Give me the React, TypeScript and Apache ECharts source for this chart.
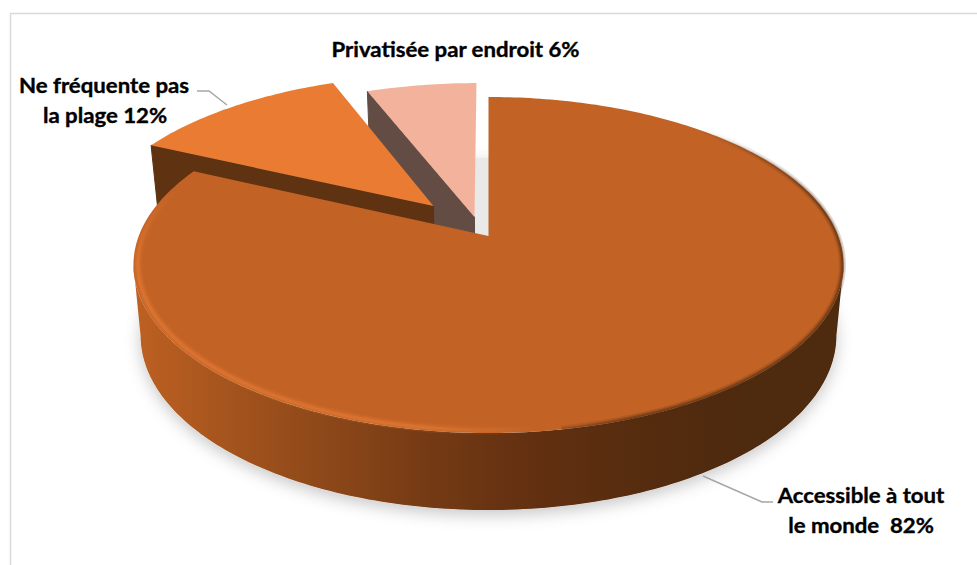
import React, { useEffect, useRef } from "react";
import * as echarts from "echarts";

const categories = ["Accessible à tout le monde", "Ne fréquente pas la plage", "Privatisée par endroit"];
const values = [82, 12, 6];
const topColors = ["#C26225", "#E97C32", "#F3B29C"];
const wallColors = ["#6A3512", "#5F3212", "#624C43"];
// displacement of each slice on the disc (disc radius = 1)
const explodeU = [0, -0.1626, -0.041];
const explodeV = [0, -0.19, -0.119];

const CX = 488.5, R = 349.7, A = 122.3, B = 236, C = -0.1726;
const W = 977, H = 565;
const order = [2, 1, 0];

function pt(u: number, v: number, bottom = false): number[] {
  const den = 1 + C * v;
  let x = CX + (R * u) / den;
  let y = (A * v + B) / den;
  if (bottom) {
    x = CX + (x - CX) * 0.98;
    y += 69 + 8 * v;
  }
  return [x, y];
}
function arc(t0: number, t1: number, ou = 0, ov = 0, bottom = false, k = 1): number[][] {
  const out: number[][] = [];
  const n = Math.max(2, Math.ceil(Math.abs(t1 - t0)));
  for (let i = 0; i <= n; i++) {
    const t = ((t0 + ((t1 - t0) * i) / n) * Math.PI) / 180;
    out.push(pt(ou + k * Math.sin(t), ov - k * Math.cos(t), bottom));
  }
  return out;
}
const grad = (stops: [number, string][]) =>
  new echarts.graphic.LinearGradient(0, 0, W, 0, stops.map(([o, c]) => ({ offset: o / W, color: c })), true);
const gradY = (stops: [number, string][]) =>
  new echarts.graphic.LinearGradient(0, 0, 0, H, stops.map(([o, c]) => ({ offset: o / H, color: c })), true);

const wallGradient = () =>
  grad([
    [134, "#BE6022"],
    [230, "#A4541D"],
    [330, "#8C4719"],
    [430, "#743A14"],
    [530, "#633011"],
    [640, "#562C0F"],
    [720, "#4F2A0E"],
    [845, "#4E2A0E"],
  ]);

const RIM = "236,128,56";
const DARK = "78,42,14";
const poly = (points: number[][], w: number, stroke: any) => ({
  type: "polyline",
  shape: { points },
  style: { fill: null, lineWidth: w, stroke },
});
function rims() {
  const out: any[] = [];
  const layers: [number, number][] = [[9, 0.12], [6, 0.2], [3, 0.35]];
  for (const [w, a] of layers) {
    out.push(
      poly(arc(292, 262, 0, 0, false, 0.988), w, gradY([[190, `rgba(${RIM},0)`], [265, `rgba(${RIM},${a})`]])),
      poly(arc(262, 130, 0, 0, false, 0.988), w, grad([
        [134, `rgba(${RIM},${a})`],
        [420, `rgba(${RIM},${a})`],
        [540, `rgba(${RIM},0)`],
      ])),
    );
  }
  const darks: [number, number][] = [[7, 0.18], [4, 0.25], [2, 0.4]];
  for (const [w, a] of darks) {
    out.push(
      poly(arc(170, 92, 0, 0, false, 0.997), w, grad([
        [500, `rgba(${DARK},0)`],
        [640, `rgba(${DARK},${a})`],
      ])),
      poly(arc(92, 42, 0, 0, false, 0.997), w, grad([
        [700, `rgba(${DARK},0)`],
        [820, `rgba(${DARK},${a})`],
      ])),
    );
  }
  return out;
}

function renderSlice(params: any) {
  const i = params.dataIndex;
  const d = order[i];
  const total = values.reduce((a, b) => a + b, 0);
  let start = 0;
  for (let k = 0; k < d; k++) start += (values[k] / total) * 360;
  const end = start + (values[d] / total) * 360;
  const ou = explodeU[d], ov = explodeV[d];
  const children: any[] = [];

  if (i === 0) {
    // soft shadow under the whole pie, drawn first
    children.push({
      type: "polygon",
      shape: { points: arc(0, 360, 0, 0, true) },
      style: { fill: "#E9E9E9", shadowBlur: 16, shadowColor: "rgba(0,0,0,0.22)", shadowOffsetY: 5 },
    });
  }
  const apexT = pt(ou, ov);
  const apexB = pt(ou, ov, true);
  const topArc = arc(start, end, ou, ov);
  const botArc = arc(start, end, ou, ov, true);

  if (d === 0) {
    children.push({
      type: "polygon",
      shape: { points: [...arc(100, 260), ...arc(100, 260, 0, 0, true).reverse()] },
      style: { fill: wallGradient() },
    });
  } else {
    children.push({
      type: "polygon",
      shape: { points: [topArc[0], apexT, apexB, botArc[0]] },
      style: { fill: wallColors[d], stroke: wallColors[d], lineWidth: 1, lineJoin: "round" },
    });
  }
  children.push({
    type: "polygon",
    shape: { points: [apexT, ...topArc] },
    style: { fill: topColors[d] },
  });
  if (d === 0) children.push(...rims());
  return { type: "group", children };
}

const labelStyle = {
  fontFamily: "Lato, Carlito, sans-serif",
  fontWeight: "bold",
  fontSize: 20,
  fill: "#000",
  stroke: "#000",
  lineWidth: 0.35,
  textAlign: "center",
  textVerticalAlign: "middle",
};
const labelLines = [
  [[197, 91], [209, 91], [227, 105]],
  [[703, 476], [762, 502], [773, 502]],
];
const labels: [string, number, number][] = [
  [`${categories[2]} ${values[2]}%`, 455.5, 49],
  ["Ne fréquente pas", 104, 85],
  [`la plage ${values[1]}%`, 105, 115],
  ["Accessible à tout", 861, 495],
  [`le monde  ${values[0]}%`, 861, 525],
];

export default function App() {
  const ref = useRef<HTMLDivElement>(null);
  useEffect(() => {
    const chart = echarts.init(ref.current!, undefined, { renderer: "svg" });
    chart.setOption({
      animation: false,
      backgroundColor: "#fff",
      series: [
        {
          type: "custom",
          coordinateSystem: "none",
          silent: true,
          clip: false,
          data: order.map((d) => ({ name: categories[d], value: values[d] })),
          renderItem: renderSlice,
          z: 2,
        },
      ],
      graphic: [
        {
          type: "polyline",
          z: 1,
          shape: { points: [[10.5, H], [10.5, 13.5], [W, 13.5]] },
          style: { fill: null, stroke: "#D9D9D9", lineWidth: 1.5 },
        },
        ...labelLines.map((points) => ({
          type: "polyline",
          z: 3,
          shape: { points },
          style: { fill: null, stroke: "#A6A6A6", lineWidth: 1.5 },
        })),
        ...labels.map(([text, x, y]) => ({
          type: "text",
          z: 4,
          x,
          y,
          scaleX: 1.11,
          style: { text, ...labelStyle },
        })),
      ],
    });
    return () => chart.dispose();
  }, []);
  return <div ref={ref} style={{ position: "absolute", left: 0, top: 0, width: W, height: H }} />;
}
